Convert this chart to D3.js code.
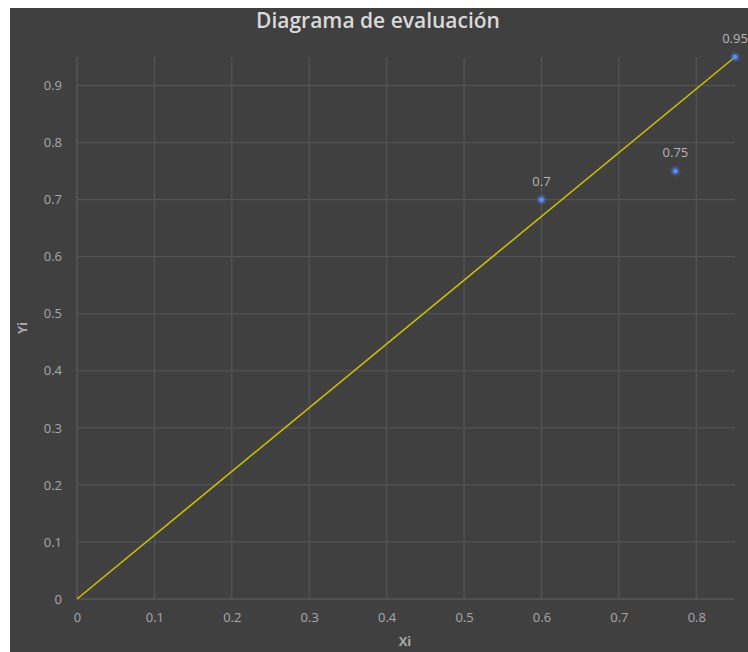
<!DOCTYPE html>
<html>
<head>
<meta charset="utf-8">
<script src="https://cdn.jsdelivr.net/npm/d3@7"></script>
<style>
  html, body { margin: 0; padding: 0; background: #ffffff; }
  svg { display: block; }
</style>
</head>
<body>
<svg id="chart" width="748" height="652"></svg>
<script>
const title = "Diagrama de evaluación";
const xLabel = "Xi";
const yLabel = "Yi";
const pointX = [0.6, 0.773, 0.85];
const pointY = [0.7, 0.75, 0.95];
const pointLabels = ["0.7", "0.75", "0.95"];
const lineX = [0, 0.85];
const lineY = [0, 0.95];
const xTicks = [0, 0.1, 0.2, 0.3, 0.4, 0.5, 0.6, 0.7, 0.8];
const yTicks = [0, 0.1, 0.2, 0.3, 0.4, 0.5, 0.6, 0.7, 0.8, 0.9];

(function () {
const svg = d3.select("#chart");
const font = "'Open Sans', 'Noto Sans', sans-serif";

svg.append("rect").attr("x", 10).attr("y", 8).attr("width", 738).attr("height", 644).attr("fill", "#404040");

const pLeft = 77, pRight = 735, pTop = 57, pBottom = 599;
const x = d3.scaleLinear().domain([0, 0.85]).range([pLeft, pRight]);
const y = d3.scaleLinear().domain([0, 0.95]).range([pBottom, pTop]);

// gridlines
const grid = svg.append("g");
grid.selectAll(".vg").data(xTicks.slice(1)).join("line")
  .attr("x1", d => x(d)).attr("x2", d => x(d)).attr("y1", pTop).attr("y2", pBottom)
  .attr("stroke", "#575757").attr("stroke-width", 1);
grid.selectAll(".hg").data(yTicks.slice(1)).join("line")
  .attr("x1", pLeft).attr("x2", pRight).attr("y1", d => y(d)).attr("y2", d => y(d))
  .attr("stroke", "#575757").attr("stroke-width", 1);

// axes
const xAxis = d3.axisBottom(x).tickValues(xTicks).tickFormat(d => d3.format("")(d)).tickSize(0).tickPadding(14);
const yAxis = d3.axisLeft(y).tickValues(yTicks).tickFormat(d => d3.format("")(d)).tickSize(0).tickPadding(15);

const gx = svg.append("g").attr("transform", `translate(0,${pBottom})`).call(xAxis);
gx.select(".domain").attr("stroke", "#636363").attr("d", `M${pLeft},0H${pRight}`);
gx.selectAll("text").attr("fill", "#a8a8a8").style("font-family", font).style("font-size", "13px");

const gy = svg.append("g").attr("transform", `translate(${pLeft},0)`).call(yAxis);
gy.select(".domain").attr("stroke", "#636363").attr("d", `M0,${pTop}V${pBottom}`);
gy.selectAll("text").attr("fill", "#a8a8a8").style("font-family", font).style("font-size", "13px");

// line
const lineData = lineX.map((v, i) => [v, lineY[i]]);
svg.append("path").datum(lineData)
  .attr("d", d3.line().x(d => x(d[0])).y(d => y(d[1])))
  .attr("fill", "none").attr("stroke", "#c8c000").attr("stroke-width", 1.6);

// points with glow
const defs = svg.append("defs");
const grad = defs.append("radialGradient").attr("id", "glow");
grad.append("stop").attr("offset", "0%").attr("stop-color", "#6a9cff").attr("stop-opacity", 0.9);
grad.append("stop").attr("offset", "100%").attr("stop-color", "#3a6ad8").attr("stop-opacity", 0);

const pts = pointX.map((v, i) => ({ x: v, y: pointY[i], label: pointLabels[i] }));
svg.selectAll(".glow").data(pts).join("circle")
  .attr("cx", d => x(d.x)).attr("cy", d => y(d.y)).attr("r", 6).attr("fill", "url(#glow)");
svg.selectAll(".pt").data(pts).join("circle")
  .attr("cx", d => x(d.x)).attr("cy", d => y(d.y)).attr("r", 2.2).attr("fill", "#5b8fff");
svg.selectAll(".pl").data(pts).join("text")
  .attr("x", d => x(d.x)).attr("y", d => y(d.y) - 14)
  .attr("text-anchor", "middle")
  .attr("fill", "#b5b5b5").style("font-family", font).style("font-size", "13px")
  .text(d => d.label);

// title
svg.append("text").attr("x", 378).attr("y", 28).attr("text-anchor", "middle")
  .attr("fill", "#d9d9d9").style("font-family", font).style("font-size", "21px").style("font-weight", "600")
  .text(title);

// axis titles
svg.append("text").attr("x", 405).attr("y", 646).attr("text-anchor", "middle")
  .attr("fill", "#a8a8a8").style("font-family", font).style("font-size", "13px").style("font-weight", "bold")
  .text(xLabel);
svg.append("text").attr("transform", "translate(27,328) rotate(-90)").attr("text-anchor", "middle")
  .attr("fill", "#a8a8a8").style("font-family", font).style("font-size", "13px").style("font-weight", "bold")
  .text(yLabel);
})();
</script>
</body>
</html>
